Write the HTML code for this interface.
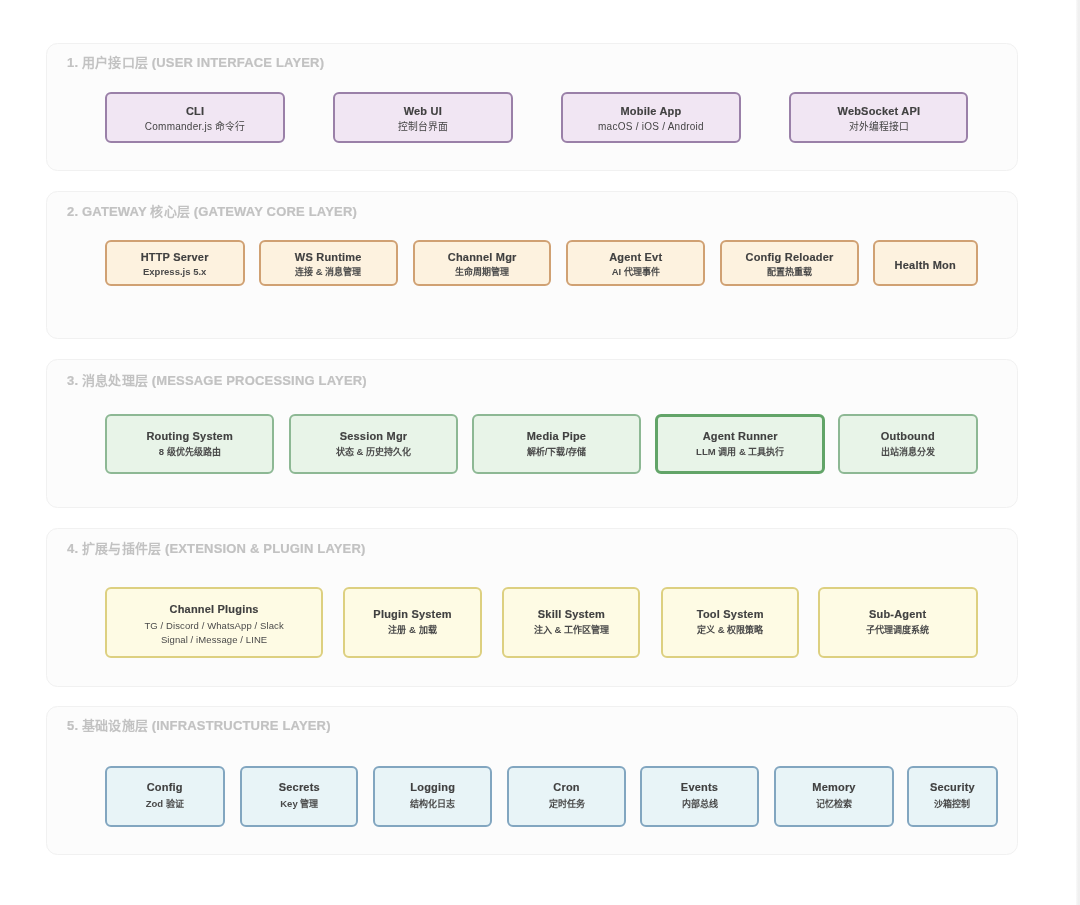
<!DOCTYPE html>
<html lang="zh-CN"><head><meta charset="utf-8">
<style>
html,body{margin:0;padding:0;background:#fff;width:1080px;height:905px;overflow:hidden;position:relative;font-family:"Liberation Sans",sans-serif;}
.sec{position:absolute;left:46px;width:971.8px;box-sizing:border-box;background:#fcfcfc;border:1px solid #f1f1f1;border-radius:11.5px;}
.st{position:absolute;will-change:transform;left:66.5px;font-size:13px;letter-spacing:0.18px;font-weight:bold;color:#c2c2c2;-webkit-text-stroke:0.2px #c2c2c2;white-space:nowrap;line-height:14px;height:14px;}
.st .c{font-weight:bold;-webkit-text-stroke:0;}
.bx{position:absolute;box-sizing:border-box;border:2px solid;border-radius:6px;}
.ln{position:absolute;will-change:transform;white-space:nowrap;text-align:center;line-height:14px;height:14px;}
.t{font-size:11px;font-weight:bold;color:#404040;letter-spacing:0.2px;-webkit-text-stroke:0.15px #404040;}
.s{font-size:9.5px;color:#4a4a4a;font-weight:bold;}
.s .c{font-size:9px;}
.p .s{font-weight:normal;letter-spacing:0.25px;font-size:10px;color:#454545;}
.p .s .c{font-size:9.8px;font-weight:500;letter-spacing:0;}
.y .s.n{font-weight:normal;letter-spacing:0.1px;}
.bx.p{background:#f1e6f3;border-color:#9a80a8;}
.bx.o{background:#fdf2df;border-color:#d0a173;}
.bx.g{background:#e8f4e8;border-color:#8db894;}
.bx.y{background:#fefbe4;border-color:#ddd080;}
.bx.b{background:#e8f4f7;border-color:#82a6c0;}
.strip{position:absolute;left:1076px;top:0;width:4px;height:905px;background:linear-gradient(to right,#fafafa,#f0f0f0 55%);}
</style></head><body>

<div class="sec" style="top:42.5px;height:128.8px"></div>
<div class="st" style="top:55.6px">1. <span class="c">用户接口层</span> (USER INTERFACE LAYER)</div>
<div class="bx p" style="left:104.7px;top:92px;width:180.1px;height:50.5px;"></div>
<div class="p"><div class="ln t" style="left:104.7px;width:180.1px;top:104.0px">CLI</div></div>
<div class="p"><div class="ln s" style="left:104.7px;width:180.1px;top:119.5px">Commander.js <span class="c">命令行</span></div></div>
<div class="bx p" style="left:333px;top:92px;width:179.6px;height:50.5px;"></div>
<div class="p"><div class="ln t" style="left:333px;width:179.6px;top:104.0px">Web UI</div></div>
<div class="p"><div class="ln s" style="left:333px;width:179.6px;top:119.5px"><span class="c">控制台界面</span></div></div>
<div class="bx p" style="left:560.7px;top:92px;width:179.9px;height:50.5px;"></div>
<div class="p"><div class="ln t" style="left:560.7px;width:179.9px;top:104.0px">Mobile App</div></div>
<div class="p"><div class="ln s" style="left:560.7px;width:179.9px;top:119.5px">macOS / iOS / Android</div></div>
<div class="bx p" style="left:788.7px;top:92px;width:179.7px;height:50.5px;"></div>
<div class="p"><div class="ln t" style="left:788.7px;width:179.7px;top:104.0px">WebSocket API</div></div>
<div class="p"><div class="ln s" style="left:788.7px;width:179.7px;top:119.5px"><span class="c">对外编程接口</span></div></div>
<div class="sec" style="top:191.4px;height:148.0px"></div>
<div class="st" style="top:204.5px">2. GATEWAY <span class="c">核心层</span> (GATEWAY CORE LAYER)</div>
<div class="bx o" style="left:105.3px;top:240.3px;width:139.3px;height:45.5px;"></div>
<div class="o"><div class="ln t" style="left:105.3px;width:139.3px;top:250.0px">HTTP Server</div></div>
<div class="o"><div class="ln s" style="left:105.3px;width:139.3px;top:264.5px">Express.js 5.x</div></div>
<div class="bx o" style="left:259.2px;top:240.3px;width:138.5px;height:45.5px;"></div>
<div class="o"><div class="ln t" style="left:259.2px;width:138.5px;top:250.0px">WS Runtime</div></div>
<div class="o"><div class="ln s" style="left:259.2px;width:138.5px;top:264.5px"><span class="c">连接</span> &amp; <span class="c">消息管理</span></div></div>
<div class="bx o" style="left:412.9px;top:240.3px;width:138.4px;height:45.5px;"></div>
<div class="o"><div class="ln t" style="left:412.9px;width:138.4px;top:250.0px">Channel Mgr</div></div>
<div class="o"><div class="ln s" style="left:412.9px;width:138.4px;top:264.5px"><span class="c">生命周期管理</span></div></div>
<div class="bx o" style="left:566px;top:240.3px;width:139.4px;height:45.5px;"></div>
<div class="o"><div class="ln t" style="left:566px;width:139.4px;top:250.0px">Agent Evt</div></div>
<div class="o"><div class="ln s" style="left:566px;width:139.4px;top:264.5px">AI <span class="c">代理事件</span></div></div>
<div class="bx o" style="left:720px;top:240.3px;width:139.0px;height:45.5px;"></div>
<div class="o"><div class="ln t" style="left:720px;width:139.0px;top:250.0px">Config Reloader</div></div>
<div class="o"><div class="ln s" style="left:720px;width:139.0px;top:264.5px"><span class="c">配置热重载</span></div></div>
<div class="bx o" style="left:873.3px;top:240.3px;width:104.5px;height:45.5px;"></div>
<div class="o"><div class="ln t" style="left:873.3px;width:104.5px;top:258.0px">Health Mon</div></div>
<div class="sec" style="top:359.3px;height:149.2px"></div>
<div class="st" style="top:373.7px">3. <span class="c">消息处理层</span> (MESSAGE PROCESSING LAYER)</div>
<div class="bx g" style="left:105.2px;top:414px;width:169.3px;height:60.3px;"></div>
<div class="g"><div class="ln t" style="left:105.2px;width:169.3px;top:429.0px">Routing System</div></div>
<div class="g"><div class="ln s" style="left:105.2px;width:169.3px;top:445.0px">8 <span class="c">级优先级路由</span></div></div>
<div class="bx g" style="left:288.8px;top:414px;width:169.0px;height:60.3px;"></div>
<div class="g"><div class="ln t" style="left:288.8px;width:169.0px;top:429.0px">Session Mgr</div></div>
<div class="g"><div class="ln s" style="left:288.8px;width:169.0px;top:445.0px"><span class="c">状态</span> &amp; <span class="c">历史持久化</span></div></div>
<div class="bx g" style="left:472.3px;top:414px;width:168.9px;height:60.3px;"></div>
<div class="g"><div class="ln t" style="left:472.3px;width:168.9px;top:429.0px">Media Pipe</div></div>
<div class="g"><div class="ln s" style="left:472.3px;width:168.9px;top:445.0px"><span class="c">解析</span>/<span class="c">下载</span>/<span class="c">存储</span></div></div>
<div class="bx g" style="left:654.5px;top:414px;width:170.5px;height:60.3px;border-width:3px;border-color:#62a468;"></div>
<div class="g"><div class="ln t" style="left:654.5px;width:170.5px;top:429.0px">Agent Runner</div></div>
<div class="g"><div class="ln s" style="left:654.5px;width:170.5px;top:445.0px">LLM <span class="c">调用</span> &amp; <span class="c">工具执行</span></div></div>
<div class="bx g" style="left:838.2px;top:414px;width:139.6px;height:60.3px;"></div>
<div class="g"><div class="ln t" style="left:838.2px;width:139.6px;top:429.0px">Outbound</div></div>
<div class="g"><div class="ln s" style="left:838.2px;width:139.6px;top:445.0px"><span class="c">出站消息分发</span></div></div>
<div class="sec" style="top:528.4px;height:158.5px"></div>
<div class="st" style="top:541.5px">4. <span class="c">扩展与插件层</span> (EXTENSION &amp; PLUGIN LAYER)</div>
<div class="bx y" style="left:105.3px;top:587px;width:218.2px;height:71.2px;"></div>
<div class="y"><div class="ln t" style="left:105.3px;width:218.2px;top:602.0px">Channel Plugins</div></div>
<div class="y"><div class="ln s n" style="left:105.3px;width:218.2px;top:619.0px">TG / Discord / WhatsApp / Slack</div></div>
<div class="y"><div class="ln s n" style="left:105.3px;width:218.2px;top:632.8px">Signal / iMessage / LINE</div></div>
<div class="bx y" style="left:342.8px;top:587px;width:139.1px;height:71.2px;"></div>
<div class="y"><div class="ln t" style="left:342.8px;width:139.1px;top:607.0px">Plugin System</div></div>
<div class="y"><div class="ln s" style="left:342.8px;width:139.1px;top:623.0px"><span class="c">注册</span> &amp; <span class="c">加载</span></div></div>
<div class="bx y" style="left:501.6px;top:587px;width:138.8px;height:71.2px;"></div>
<div class="y"><div class="ln t" style="left:501.6px;width:138.8px;top:607.0px">Skill System</div></div>
<div class="y"><div class="ln s" style="left:501.6px;width:138.8px;top:623.0px"><span class="c">注入</span> &amp; <span class="c">工作区管理</span></div></div>
<div class="bx y" style="left:660.5px;top:587px;width:138.5px;height:71.2px;"></div>
<div class="y"><div class="ln t" style="left:660.5px;width:138.5px;top:607.0px">Tool System</div></div>
<div class="y"><div class="ln s" style="left:660.5px;width:138.5px;top:623.0px"><span class="c">定义</span> &amp; <span class="c">权限策略</span></div></div>
<div class="bx y" style="left:818.4px;top:587px;width:159.4px;height:71.2px;"></div>
<div class="y"><div class="ln t" style="left:818.4px;width:159.4px;top:607.0px">Sub-Agent</div></div>
<div class="y"><div class="ln s" style="left:818.4px;width:159.4px;top:623.0px"><span class="c">子代理调度系统</span></div></div>
<div class="sec" style="top:706.1px;height:149.1px"></div>
<div class="st" style="top:719.2px">5. <span class="c">基础设施层</span> (INFRASTRUCTURE LAYER)</div>
<div class="bx b" style="left:105.3px;top:765.5px;width:119.4px;height:61.2px;"></div>
<div class="b"><div class="ln t" style="left:105.3px;width:119.4px;top:780.0px">Config</div></div>
<div class="b"><div class="ln s" style="left:105.3px;width:119.4px;top:796.5px">Zod <span class="c">验证</span></div></div>
<div class="bx b" style="left:239.7px;top:765.5px;width:118.6px;height:61.2px;"></div>
<div class="b"><div class="ln t" style="left:239.7px;width:118.6px;top:780.0px">Secrets</div></div>
<div class="b"><div class="ln s" style="left:239.7px;width:118.6px;top:796.5px">Key <span class="c">管理</span></div></div>
<div class="bx b" style="left:372.5px;top:765.5px;width:119.5px;height:61.2px;"></div>
<div class="b"><div class="ln t" style="left:372.5px;width:119.5px;top:780.0px">Logging</div></div>
<div class="b"><div class="ln s" style="left:372.5px;width:119.5px;top:796.5px"><span class="c">结构化日志</span></div></div>
<div class="bx b" style="left:506.5px;top:765.5px;width:119.0px;height:61.2px;"></div>
<div class="b"><div class="ln t" style="left:506.5px;width:119.0px;top:780.0px">Cron</div></div>
<div class="b"><div class="ln s" style="left:506.5px;width:119.0px;top:796.5px"><span class="c">定时任务</span></div></div>
<div class="bx b" style="left:640.3px;top:765.5px;width:119.0px;height:61.2px;"></div>
<div class="b"><div class="ln t" style="left:640.3px;width:119.0px;top:780.0px">Events</div></div>
<div class="b"><div class="ln s" style="left:640.3px;width:119.0px;top:796.5px"><span class="c">内部总线</span></div></div>
<div class="bx b" style="left:774.3px;top:765.5px;width:120.0px;height:61.2px;"></div>
<div class="b"><div class="ln t" style="left:774.3px;width:120.0px;top:780.0px">Memory</div></div>
<div class="b"><div class="ln s" style="left:774.3px;width:120.0px;top:796.5px"><span class="c">记忆检索</span></div></div>
<div class="bx b" style="left:907.0px;top:765.5px;width:90.8px;height:61.2px;"></div>
<div class="b"><div class="ln t" style="left:907.0px;width:90.8px;top:780.0px">Security</div></div>
<div class="b"><div class="ln s" style="left:907.0px;width:90.8px;top:796.5px"><span class="c">沙箱控制</span></div></div>
<div class="strip"></div>
</body></html>
